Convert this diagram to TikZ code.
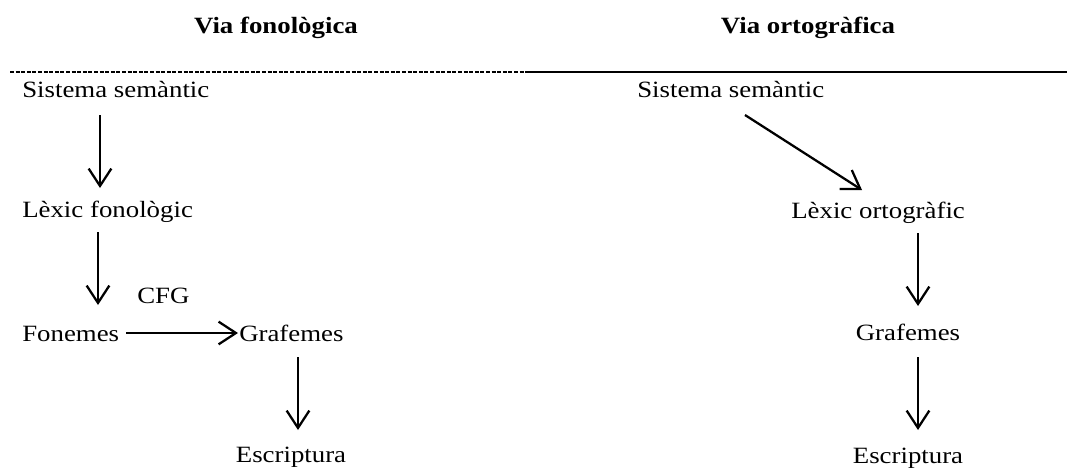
\documentclass[tikz,border=0pt]{standalone}
\usepackage{fontspec}
\setmainfont[FakeStretch=1.15]{Liberation Serif}
\usetikzlibrary{calc}
\usetikzlibrary{arrows.meta}

\begin{document}
\begin{tikzpicture}[x=0.75pt,y=-0.75pt,
        txt/.style={inner sep=0pt,text height=12.5pt,text depth=4pt,font=\fontsize{17.5}{20}\selectfont},
        titol/.style={txt,font=\fontsize{17.5}{20}\selectfont\bfseries},
        fletxa/.style={-{Straight Barb[length=13pt,width=17pt]},line width=1.7pt}]
                \useasboundingbox (0,0) rectangle (1067,468);
                % titols
                \node[titol,anchor=base] (titolF) at (276,33) {Via fonològica};
                \node[titol,anchor=base] (titolO) at (808,33) {Via ortogràfica};
                \coordinate (L0) at (10,72);
                \coordinate (L1) at (526,72);
                \coordinate (L2) at (1067,72);
                \draw[line width=1.3pt,dash pattern=on 3pt off 1.2pt] (L0) -- (L1);
                \draw[line width=1.7pt] (L1) -- (L2);
                % via fonologica
                \foreach \n/\x/\y/\t in {sistemaF/22/97/Sistema semàntic, lexicF/22/217/Lèxic fonològic, fonemesF/22/341/Fonemes, cfg/137/303/CFG, grafemesF/239/341/Grafemes} {
                    \node[txt,anchor=base west] (\n) at (\x,\y) {\t};
                }
                \node[txt,anchor=base] (escripturaF) at (291,462) {Escriptura};
                % via ortografica
                \node[txt,anchor=base west] (sistemaO) at (637,97) {Sistema semàntic};
                \node[txt,anchor=base west] (lexicO) at (791,218) {Lèxic ortogràfic};
                \node[txt,anchor=base] (grafemesO) at (908,340) {Grafemes};
                \node[txt,anchor=base] (escripturaO) at (908,463) {Escriptura};
                % fletxes
                \draw[fletxa] ($(sistemaF.base west)+(78,18)$) -- ($(lexicF.base west)+(78,-29)$);
                \draw[fletxa] ($(lexicF.base west)+(76,15)$) -- ($(fonemesF.base west)+(76,-36)$);
                \draw[fletxa] ($(fonemesF.base east)+(7,-8)$) -- ($(grafemesF.base west)+(-1,-8)$);
                \draw[fletxa] ($(grafemesF.base west)+(59,16)$) -- ($(escripturaF.base)+(7,-32)$);
                \draw[fletxa] ($(sistemaO.base west)+(108,18)$) -- ($(lexicO.base west)+(71,-28)$);
                \draw[fletxa] ($(lexicO.base west)+(127,15)$) -- ($(grafemesO.base)+(10,-34)$);
                \draw[fletxa] ($(grafemesO.base)+(10,17)$) -- ($(escripturaO.base)+(10,-33)$);
\end{tikzpicture}
\end{document}
